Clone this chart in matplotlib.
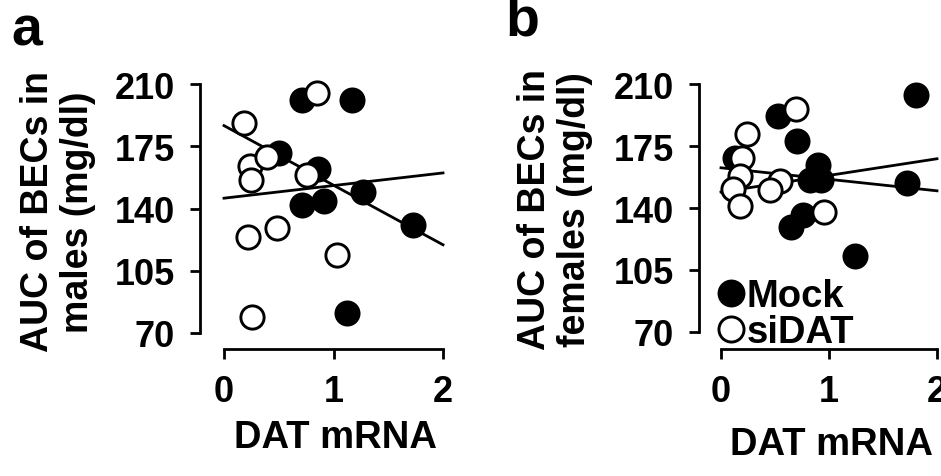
"""
AUC of blood ethanol vs DAT mRNA, males (a) and females (b),
Mock vs siDAT with per-group linear fits.
"""

import numpy as np
import matplotlib
matplotlib.use("Agg")
import matplotlib.pyplot as plt

plt.rcParams["font.family"] = ["Liberation Sans", "DejaVu Sans"]
plt.rcParams["font.weight"] = "bold"

# ----------------------------------------------------------------------
# Data
# ----------------------------------------------------------------------

# panel a: males
males_mock_x = [0.71, 1.17, 0.50, 0.86, 0.71, 0.91, 1.27, 1.73, 1.12]
males_mock_y = [201, 201, 171, 162, 142, 144, 149, 131, 81]
males_sidat_x = [0.18, 0.24, 0.25, 0.39, 0.76, 0.85, 0.22, 0.48, 1.03, 0.26]
males_sidat_y = [188, 164, 156, 169, 159, 205, 124, 129, 114, 79]

# panel b: females
females_mock_x = [1.81, 0.53, 0.70, 0.90, 0.82, 0.93, 1.72, 0.76, 0.65, 1.24, 0.13]
females_mock_y = [204, 192, 178, 164, 156, 156, 154, 136, 129, 113, 168]
females_sidat_x = [0.55, 0.24, 0.19, 0.18, 0.11, 0.18, 0.45, 0.69, 0.95]
females_sidat_y = [155, 182, 168, 158, 151, 141, 150, 196, 138]

# fitted lines as drawn (intercept, slope), over DAT mRNA 0..2
males_mock_fit = (186.6, -33.5)
males_sidat_fit = (145.8, 7.1)
females_mock_fit = (162.7, -6.5)
females_sidat_fit = (149.0, 9.4)

fit_x = [0, 2]
x_ticks = [0, 1, 2]
y_ticks = [70, 105, 140, 175, 210]

W, H = 941, 477


def style_axes(ax, left_out, bottom_out):
    ax.set_xlim(0, 2)
    ax.set_ylim(70, 210)
    ax.set_xticks(x_ticks)
    ax.set_yticks(y_ticks)
    for side in ("top", "right"):
        ax.spines[side].set_visible(False)
    ax.spines["left"].set_position(("outward", left_out))
    ax.spines["bottom"].set_position(("outward", bottom_out))
    ax.spines["left"].set_bounds(70, 210)
    ax.spines["bottom"].set_bounds(0, 2)
    for side in ("left", "bottom"):
        ax.spines[side].set_linewidth(2.0)
    ax.tick_params(width=2.0, length=7.5, labelsize=26, pad=10.5)
    ax.patch.set_visible(False)


def draw_panel(ax, mock_x, mock_y, sidat_x, sidat_y, mock_fit, sidat_fit):
    for b0, b1 in (mock_fit, sidat_fit):
        ax.plot(fit_x, [b0 + b1 * x for x in fit_x], color="black",
                linewidth=2.0, zorder=2, clip_on=False)
    mock = ax.scatter(mock_x, mock_y, s=280, color="black",
                      edgecolor="black", linewidth=2, zorder=3,
                      clip_on=False, label="Mock")
    sidat = ax.scatter(sidat_x, sidat_y, s=280, color="white",
                       edgecolor="black", linewidth=2.1, zorder=4,
                       clip_on=False, label="siDAT")
    return mock, sidat


fig = plt.figure(figsize=(W / 100, H / 100), dpi=100)

# axes rectangles put the data area where the reference has it (pixels)
ax_a = fig.add_axes([224 / W, (H - 334) / H, 219 / W, 249 / H])
ax_b = fig.add_axes([721 / W, (H - 333) / H, 216 / W, 248 / H])

style_axes(ax_a, 17.3, 11.5)
style_axes(ax_b, 15.8, 12.2)

draw_panel(ax_a, males_mock_x, males_mock_y, males_sidat_x, males_sidat_y,
           males_mock_fit, males_sidat_fit)
mock_h, sidat_h = draw_panel(ax_b, females_mock_x, females_mock_y,
                             females_sidat_x, females_sidat_y,
                             females_mock_fit, females_sidat_fit)

# axis labels
ax_a.set_ylabel("AUC of BECs in\nmales (mg/dl)", fontsize=27,
                fontweight="bold", linespacing=1.15)
ax_a.yaxis.set_label_coords(96 / W, 1 - 212 / H, transform=fig.transFigure)
ax_b.set_ylabel("AUC of BECs in\nfemales (mg/dl)", fontsize=27,
                fontweight="bold", linespacing=1.15)
ax_b.yaxis.set_label_coords(593 / W, 1 - 210 / H, transform=fig.transFigure)

ax_a.set_xlabel("DAT mRNA", fontsize=27.5, fontweight="bold")
ax_a.xaxis.set_label_coords(335 / W, 1 - 420 / H, transform=fig.transFigure)
ax_b.set_xlabel("DAT mRNA", fontsize=27.5, fontweight="bold")
ax_b.xaxis.set_label_coords(831 / W, 1 - 427 / H, transform=fig.transFigure)

# panel letters
fig.text(11 / W, 1 - 45 / H, "a", fontsize=40, fontweight="bold",
         va="baseline")
fig.text(505 / W, 1 - 35 / H, "b", fontsize=40, fontweight="bold",
         va="baseline")

ax_b.legend(handles=[mock_h, sidat_h], loc="lower left",
            bbox_to_anchor=(717 / W, 1 - 351 / H),
            bbox_transform=fig.transFigure,
            prop={"size": 27.5, "weight": "bold"},
            frameon=False, borderpad=0, borderaxespad=0,
            handlelength=0.75, handletextpad=0.02, labelspacing=0,
            scatterpoints=1, scatteryoffsets=[0.5], markerscale=1.08)

fig.savefig("out.png", dpi=100)
plt.close(fig)
